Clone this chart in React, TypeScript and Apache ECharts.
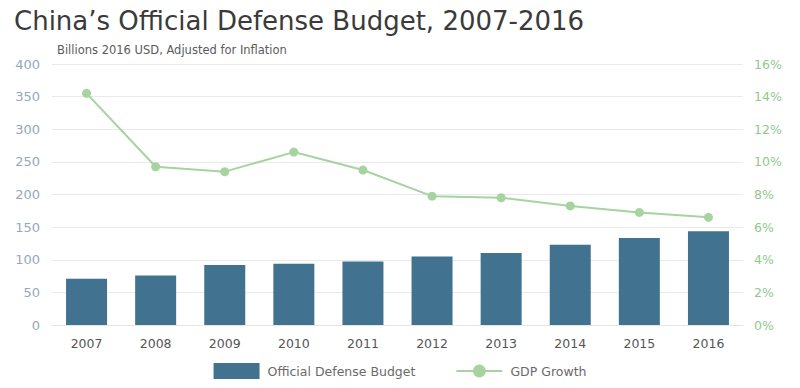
import React, { useEffect, useRef } from "react";
import * as echarts from "echarts";

const years = ["2007", "2008", "2009", "2010", "2011", "2012", "2013", "2014", "2015", "2016"];
const defenseBudget = [71, 76, 92, 94, 97.5, 105, 110.5, 123, 133.5, 143.5];
const gdpGrowth = [14.2, 9.7, 9.4, 10.6, 9.5, 7.9, 7.8, 7.3, 6.9, 6.6];

const FONT = "DejaVu Sans";

export default function App() {
  const ref = useRef<HTMLDivElement>(null);
  useEffect(() => {
    document.body.style.margin = "0";
    const chart = echarts.init(ref.current!, null, { renderer: "svg" });
    chart.setOption({
      animation: false,
      backgroundColor: "#ffffff",
      textStyle: { fontFamily: FONT },
      title: [
        {
          text: "China\u2019s Official Defense Budget, 2007-2016",
          left: 9,
          top: 3,
          textStyle: { fontFamily: FONT, fontSize: 26, fontWeight: "normal", color: "#3a3a3a" },
        },
        {
          text: "Billions 2016 USD, Adjusted for Inflation",
          left: 52,
          top: 39,
          textStyle: { fontFamily: FONT, fontSize: 11.5, fontWeight: "normal", color: "#5a5a5a" },
        },
      ],
      legend: {
        bottom: 4,
        left: "center",
        itemGap: 40,
        itemWidth: 46,
        itemHeight: 16,
        textStyle: { fontFamily: FONT, fontSize: 12.5, color: "#6a6a6a", padding: [0, 0, 0, 3] },
        data: [
          { name: "Official Defense Budget", icon: "rect" },
          { name: "GDP Growth" },
        ],
      },
      grid: { left: 52, right: 57, top: 64, bottom: 63 },
      xAxis: {
        type: "category",
        data: years,
        axisLine: { show: true, lineStyle: { color: "#e3e6e8" } },
        axisTick: { show: false },
        axisLabel: { color: "#555555", fontSize: 12.5, margin: 12, fontFamily: FONT },
      },
      yAxis: [
        {
          type: "value",
          min: 0,
          max: 400,
          interval: 50,
          axisLine: { show: false },
          axisTick: { show: false },
          axisLabel: { color: "#93a9ba", fontSize: 13, margin: 12, fontFamily: FONT },
          splitLine: { lineStyle: { color: "#e8eaec" } },
        },
        {
          type: "value",
          min: 0,
          max: 16,
          interval: 2,
          axisLine: { show: false },
          axisTick: { show: false },
          axisLabel: { color: "#8fc98c", fontSize: 12.5, margin: 11, formatter: "{value}%", fontFamily: FONT },
          splitLine: { show: false },
        },
      ],
      series: [
        {
          name: "Official Defense Budget",
          type: "bar",
          data: defenseBudget,
          barWidth: 41,
          itemStyle: { color: "#41728f" },
        },
        {
          name: "GDP Growth",
          type: "line",
          yAxisIndex: 1,
          data: gdpGrowth,
          symbol: "circle",
          symbolSize: 9,
          lineStyle: { color: "#a6d3a0", width: 2 },
          itemStyle: { color: "#a6d3a0" },
        },
      ],
    });
    return () => chart.dispose();
  }, []);
  return <div ref={ref} style={{ width: 800, height: 388 }} />;
}
